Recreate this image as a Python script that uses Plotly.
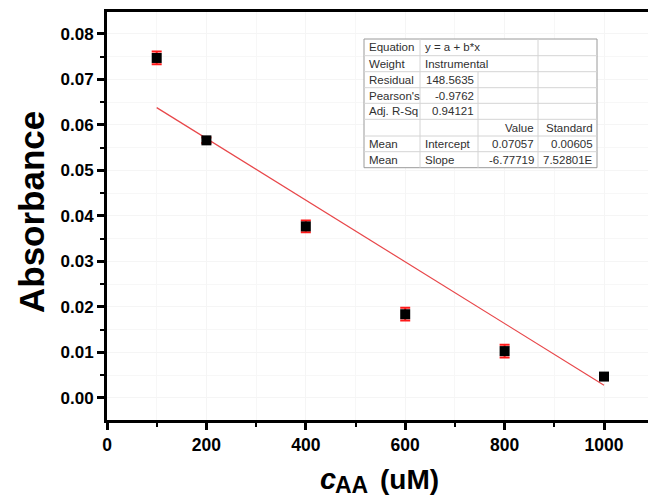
import plotly.graph_objects as go

# ---- data ----
conc = [100, 200, 400, 600, 800, 1000]
absorbance = [0.0747, 0.0566, 0.0377, 0.0184, 0.0103, 0.0047]
abs_err = [0.0014, 0.0006, 0.0013, 0.0014, 0.0014, 0.0007]
fit_a = 0.07057
fit_b = -6.77719e-5
fit_x = [100, 1000]
fit_y = [fit_a + fit_b * x for x in fit_x]

x_ticks = [0, 200, 400, 600, 800, 1000]
y_ticks = [0.00, 0.01, 0.02, 0.03, 0.04, 0.05, 0.06, 0.07, 0.08]

table_rows = [
    ["Equation", "y = a + b*x", "", ""],
    ["Weight", "Instrumental", "", ""],
    ["Residual", "148.5635", "", ""],
    ["Pearson's", "-0.9762", "", ""],
    ["Adj. R-Sq", "0.94121", "", ""],
    ["", "", "Value", "Standard"],
    ["Mean", "Intercept", "0.07057", "0.00605"],
    ["Mean", "Slope", "-6.77719", "7.52801E"],
]

# ---- geometry (pixels) ----
W, H = 648, 499
L, R, T, B = 107, 0, 12, 79
PW, PH = W - L - R, H - T - B


def px(xp):
    return (xp - L) / PW


def py(yp):
    return (H - B - yp) / PH


FONT = "Arial, Liberation Sans, sans-serif"

fig = go.Figure()
fig.add_trace(go.Scatter(
    x=fit_x, y=fit_y, mode="lines",
    line=dict(color="#e8474a", width=1.2), showlegend=False, hoverinfo="skip"))
fig.add_trace(go.Scatter(
    x=conc, y=absorbance, mode="markers",
    marker=dict(symbol="square", size=10, color="black"),
    error_y=dict(type="data", array=abs_err, color="#ff1a1a", thickness=2, width=5),
    showlegend=False))

# ---- table ----
col_b = [364, 420, 478, 538, 597]
row_b = [39, 55.7, 71.7, 87.7, 103.3, 119.3, 136, 151.7, 167.7]
shapes = []
shapes.append(dict(type="rect", xref="paper", yref="paper",
                   x0=px(col_b[0]), x1=px(col_b[-1]), y0=py(row_b[-1]), y1=py(row_b[0]),
                   line=dict(color="#9a9a9a", width=1), fillcolor="white", layer="above"))
for yb in row_b[1:-1]:
    shapes.append(dict(type="line", xref="paper", yref="paper",
                       x0=px(col_b[0]), x1=px(col_b[-1]), y0=py(yb), y1=py(yb),
                       line=dict(color="#d4d4d4", width=1), layer="above"))
for i, xb in enumerate(col_b[1:-1], start=1):
    ystart = row_b[0] if i != 2 else row_b[2]
    shapes.append(dict(type="line", xref="paper", yref="paper",
                       x0=px(xb), x1=px(xb), y0=py(ystart), y1=py(row_b[-1]),
                       line=dict(color="#d4d4d4", width=1), layer="above"))

annotations = []
for r, row in enumerate(table_rows):
    yc = (row_b[r] + row_b[r + 1]) / 2
    for c, txt in enumerate(row):
        if not txt:
            continue
        right_align = (c == 1 and r in (2, 3, 4)) or c >= 2
        if right_align:
            xa, anchor = px(col_b[c + 1] - 2), "right"
        else:
            xa, anchor = px(col_b[c] + 3), "left"
        annotations.append(dict(xref="paper", yref="paper", x=xa, y=py(yc),
                                text=txt, showarrow=False, xanchor=anchor, yanchor="middle",
                                font=dict(family=FONT, size=11.5, color="#303030")))

# axis titles as annotations for exact placement
title_parts = [
    ("<i>c</i>", 318, 479, 29),
    ("AA", 333, 485, 23),
    ("(uM)", 378, 479, 28),
]
for txt, xl, yc, fs in title_parts:
    annotations.append(dict(xref="paper", yref="paper", x=px(xl), y=py(yc),
                            text=txt, showarrow=False, xanchor="left", yanchor="middle",
                            font=dict(family=FONT, size=fs, color="black", weight="bold")))
annotations.append(dict(xref="paper", yref="paper", x=px(31), y=py(212),
                        text="Absorbance", showarrow=False, textangle=-90,
                        xanchor="center", yanchor="middle",
                        font=dict(family=FONT, size=35, color="black", weight="bold")))

fig.update_layout(
    width=W, height=H,
    margin=dict(l=L, r=R, t=T, b=B),
    paper_bgcolor="white", plot_bgcolor="white",
    font=dict(family=FONT, color="black"),
    shapes=shapes, annotations=annotations,
    xaxis=dict(
        range=[0, 1088.5], tickvals=x_ticks, ticktext=[str(v) for v in x_ticks],
        showline=True, linewidth=3, linecolor="black", mirror=True,
        ticks="outside", ticklen=7, tickwidth=3, tickcolor="black",
        minor=dict(dtick=100, ticks="outside", ticklen=4, tickwidth=2, tickcolor="black",
                   showgrid=True, gridcolor="#f7f7f7"),
        showgrid=True, gridcolor="#f5f5f5", zeroline=False, automargin=False,
        tickfont=dict(family=FONT, size=17.5, color="black", weight="bold"),
    ),
    yaxis=dict(
        range=[-0.00484, 0.0848], tickvals=y_ticks, ticktext=[f"{v:.2f}" for v in y_ticks],
        showline=True, linewidth=3, linecolor="black", mirror=False,
        ticks="outside", ticklen=7, tickwidth=3, tickcolor="black",
        minor=dict(dtick=0.005, ticks="outside", ticklen=4, tickwidth=2, tickcolor="black",
                   showgrid=True, gridcolor="#f7f7f7"),
        showgrid=True, gridcolor="#f5f5f5", zeroline=False, automargin=False,
        tickfont=dict(family=FONT, size=17, color="black", weight="bold"),
    ),
)

fig.write_html("out.html", config={"displayModeBar": False},
               post_script="document.body.style.margin='0';document.body.style.overflow='hidden';")
